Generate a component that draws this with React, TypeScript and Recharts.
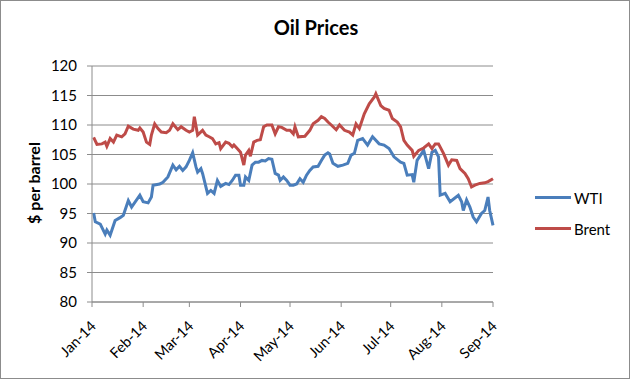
import { LineChart, Line, XAxis, YAxis, CartesianGrid, Label } from "recharts"

// days after 1 Jan 2014
const wtiDays = [
  1, 2, 5, 8, 9, 11, 14, 17, 19, 22, 24, 29, 31, 34, 36, 37, 41, 43, 46, 49, 51, 53, 55, 57, 59, 61, 63, 64,
  66, 67, 70, 72, 74, 76, 78, 81, 83, 85, 87, 89, 90, 92, 93, 95, 97, 99, 101, 103, 105, 107, 109, 111,
  113, 114, 116, 118, 120, 122, 124, 126, 128, 130, 132, 134, 137, 139, 141, 143, 144, 146, 149, 152,
  155, 157, 159, 161, 164, 167, 170, 174, 177, 180, 183, 187, 189, 191, 194, 195, 197, 201, 204, 206,
  208, 210, 211, 214, 217, 222, 224, 225, 227, 229, 231, 233, 236, 238, 240, 241, 243,
]
const wtiPrices = [
  95.1, 93.6, 93.2, 91.5, 92.2, 91.3, 93.8, 94.3, 94.7, 97.2, 96.1, 98.1, 97.0, 96.8, 97.8, 99.8, 100.0,
  100.3, 101.2, 103.2, 102.4, 103.0, 102.3, 102.9, 104.0, 105.3, 102.9, 102.0, 102.6, 101.8, 98.4, 98.9,
  98.4, 100.6, 99.6, 100.1, 99.9, 100.6, 101.5, 101.5, 99.8, 99.8, 101.2, 100.6, 103.2, 103.7, 103.7,
  104.0, 103.9, 104.3, 104.2, 101.8, 101.5, 100.6, 101.2, 100.6, 99.8, 99.8, 100.0, 100.9, 100.3, 101.5,
  102.3, 102.9, 103.0, 104.0, 104.9, 105.3, 105.1, 103.5, 103.0, 103.2, 103.5, 104.9, 105.2, 107.4,
  107.7, 106.6, 108.0, 106.8, 106.6, 106.0, 104.6, 103.7, 103.5, 101.5, 101.6, 100.3, 104.0, 105.7,
  102.6, 105.4, 105.7, 104.6, 98.1, 98.4, 97.0, 98.1, 97.0, 95.5, 97.3, 96.1, 94.4, 93.6, 95.0, 95.5,
  97.8, 95.5, 93.0,
]

const brentDays = [
  1, 3, 6, 8, 9, 11, 13, 15, 18, 20, 22, 25, 28, 29, 31, 33, 35, 36, 38, 40, 42, 45, 47, 49, 52, 54, 57,
  59, 61, 62, 64, 67, 69, 71, 73, 75, 77, 78, 81, 83, 85, 86, 88, 90, 92, 93, 95, 96, 98, 100, 102, 104,
  106, 109, 111, 113, 115, 118, 120, 122, 123, 125, 129, 132, 134, 137, 139, 141, 143, 145, 148, 150,
  153, 156, 158, 160, 162, 165, 168, 171, 172, 175, 177, 180, 182, 185, 187, 189, 191, 194, 195, 198,
  201, 204, 206, 208, 210, 213, 216, 218, 221, 223, 226, 228, 230, 232, 235, 238, 240, 243,
]
const brentPrices = [
  107.9, 106.7, 106.8, 107.1, 106.4, 107.7, 107.1, 108.3, 108.0, 108.5, 109.8, 109.3, 109.1, 109.5,
  108.8, 107.1, 106.7, 108.3, 110.2, 109.4, 108.8, 108.7, 109.1, 110.2, 109.2, 109.7, 109.1, 108.8,
  109.1, 111.4, 108.3, 109.1, 108.3, 108.0, 107.7, 106.8, 107.0, 106.0, 107.1, 106.9, 106.3, 106.6,
  106.0, 105.4, 103.2, 104.9, 105.7, 104.7, 107.1, 107.4, 107.5, 109.7, 110.0, 110.0, 108.5, 109.7,
  109.6, 109.1, 109.1, 108.5, 109.7, 108.0, 108.1, 109.1, 110.2, 110.8, 111.4, 111.1, 110.5, 110.0,
  109.2, 110.0, 109.1, 108.8, 108.3, 110.2, 109.4, 111.9, 113.6, 114.7, 115.3, 113.3, 112.8, 112.5,
  111.1, 110.5, 109.7, 107.4, 106.6, 105.7, 104.7, 105.7, 106.1, 106.8, 106.0, 106.8, 106.8, 105.2,
  103.2, 104.1, 104.0, 102.6, 101.8, 100.9, 99.5, 99.8, 100.1, 100.2, 100.4, 100.9,
]

const monthTicks = [0, 31, 59, 90, 120, 151, 181, 212, 243]
const monthLabels = ["Jan-14", "Feb-14", "Mar-14", "Apr-14", "May-14", "Jun-14", "Jul-14", "Aug-14", "Sep-14"]
const priceTicks = [80, 85, 90, 95, 100, 105, 110, 115, 120]

const wtiData = wtiDays.map((d, i) => ({ day: d, price: wtiPrices[i] }))
const brentData = brentDays.map((d, i) => ({ day: d, price: brentPrices[i] }))

const FONT = "Lato, 'Open Sans', sans-serif"
const GRID = "#8c8c8c"
const WTI_COLOR = "#4a7ebb"
const BRENT_COLOR = "#be4b48"

function MonthTick({ x, y, payload }: any) {
  const idx = monthTicks.indexOf(payload.value)
  const tx = x + 5
  const ty = y + 18
  return (
    <text
      x={tx}
      y={ty}
      textAnchor="end"
      fontSize={14.5}
      fill="#000"
      fontFamily={FONT}
      transform={`rotate(-45, ${tx}, ${ty})`}
    >
      {monthLabels[idx]}
    </text>
  )
}

function LegendBox() {
  const items = [
    { name: "WTI", color: WTI_COLOR },
    { name: "Brent", color: BRENT_COLOR },
  ]
  return (
    <div style={{ position: "absolute", left: 534, top: 181, fontFamily: FONT, fontSize: 15 }}>
      {items.map((it) => (
        <div key={it.name} style={{ display: "flex", alignItems: "center", height: 31 }}>
          <div style={{ width: 36, height: 3, background: it.color, marginRight: 3 }} />
          <span>{it.name}</span>
        </div>
      ))}
    </div>
  )
}

export default function App() {
  return (
    <div
      style={{
        position: "absolute",
        left: 0,
        top: 0,
        width: 630,
        height: 379,
        boxSizing: "border-box",
        border: "1px solid #8c8c8c",
        background: "#fff",
      }}
    >
      <div
        style={{
          position: "absolute",
          top: 14,
          left: 0,
          width: 630,
          textAlign: "center",
          fontFamily: FONT,
          fontWeight: 700,
          fontSize: 20,
        }}
      >
        Oil Prices
      </div>
      <div style={{ position: "absolute", left: -1, top: -1 }}>
        <LineChart width={630} height={379} margin={{ top: 66, right: 137, left: 0, bottom: 0 }}>
          <CartesianGrid horizontal vertical={false} stroke={GRID} />
          <XAxis
            dataKey="day"
            type="number"
            domain={[0, 243]}
            ticks={monthTicks}
            allowDuplicatedCategory={false}
            height={77}
            interval={0}
            tickSize={5}
            stroke={GRID}
            tick={<MonthTick />}
          />
          <YAxis
            type="number"
            domain={[80, 120]}
            ticks={priceTicks}
            width={92}
            tickSize={5}
            tickMargin={10}
            stroke={GRID}
            tick={{ fill: "#000", fontSize: 15, fontFamily: FONT }}
          >
            <Label
              content={() => (
                <text
                  x={33}
                  y={183}
                  textAnchor="middle"
                  dominantBaseline="central"
                  fontFamily={FONT}
                  fontWeight={700}
                  fontSize={16}
                  fill="#000"
                  transform="rotate(-90, 33, 183)"
                >
                  $ per barrel
                </text>
              )}
            />
          </YAxis>
          <Line
            data={wtiData}
            dataKey="price"
            name="WTI"
            stroke={WTI_COLOR}
            strokeWidth={3}
            dot={false}
            isAnimationActive={false}
          />
          <Line
            data={brentData}
            dataKey="price"
            name="Brent"
            stroke={BRENT_COLOR}
            strokeWidth={3}
            dot={false}
            isAnimationActive={false}
          />
        </LineChart>
      </div>
      <LegendBox />
    </div>
  )
}
